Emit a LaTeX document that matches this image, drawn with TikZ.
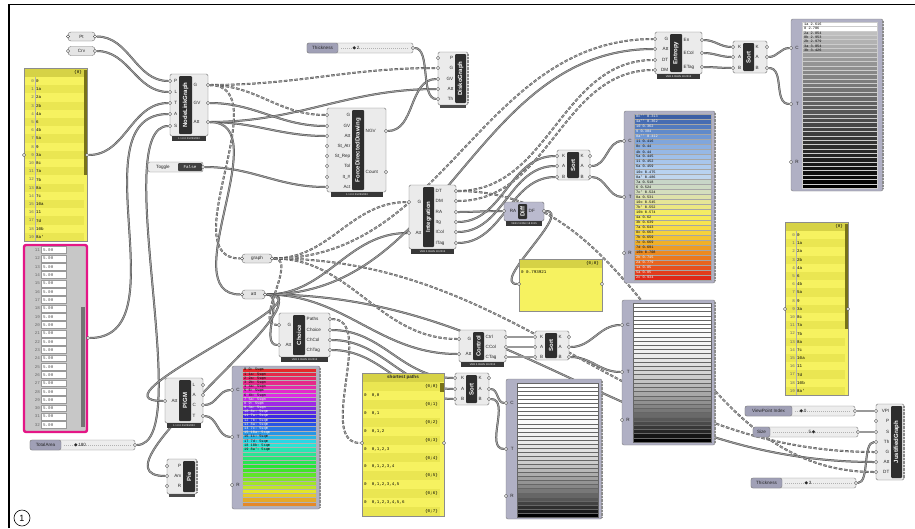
\documentclass[tikz,border=0pt]{standalone}
\usepackage{fontspec}
\setmainfont{Liberation Sans}
\setmonofont{Liberation Mono}
\newfontfamily\symfont{DejaVu Sans}
\pgfdeclarelayer{bg}
\pgfdeclarelayer{wires}
\pgfsetlayers{bg,wires,main}

% component: body, black band, vertical name
\newcommand{\ghbox}[8]{%
  \draw[compbody] (#2,#3) rectangle (#4,#5);
  \fill[black!82,rounded corners=1pt] (#6,#3+2) rectangle (#7,#5-2);
  \node[bandlabel] (#1) at ({(#6+#7)/2},{(#3+#5)/2}) {#8};}
% version strip under a component
\newcommand{\ghfoot}[4]{%
  \fill[black!78] (#1,#3) rectangle (#2,#3+5);
  \node[foottext] at ({(#1+#2)/2},#3+2.6) {#4};}
% input / output grips with labels
\newcommand{\ghins}[4]{%
  \foreach \lbl/\yy [count=\kk] in {#4}{%
    \node[grip] (#1-i\kk) at (#2,\yy) {};
    \node[portlbl,anchor=east] at (#3,\yy) {\lbl};}}
\newcommand{\ghouts}[4]{%
  \foreach \lbl/\yy [count=\kk] in {#4}{%
    \node[grip] (#1-o\kk) at (#2,\yy) {};
    \node[portlbl,anchor=west] at (#3,\yy) {\lbl};}}
% number slider
\newcommand{\ghslider}[8]{%
  \draw[sliderbody] (#2,#3) rectangle (#4,#3+10);
  \draw[sliderlbl] (#2,#3) rectangle (#5,#3+10);
  \node[portlbl] at ({(#2+#5)/2},#3+5) {#6};
  \draw[slidertrack] (#5+3,#3+5) -- (#4-4,#3+5);
  \node[portlbl] at (#7,#3+5) {#8};
  \node[grip] (#1) at (#4,#3+5) {};}
% parameter capsule
\newcommand{\ghparam}[5]{%
  \draw[parambody] (#2,#3) rectangle (#4,#3+9);
  \node[portlbl] at ({(#2+#4)/2},#3+4.5) {#5};
  \node[grip] (#1-in) at (#2,#3+4.5) {};
  \node[grip] (#1-out) at (#4,#3+4.5) {};}
% yellow list of rooms
\newcommand{\roomlist}[3]{%
  \fill[panelyellow] (#2,#3) rectangle (#2+63,#3+173);
  \fill[panelhead] (#2,#3) rectangle (#2+63,#3+9);
  \node[listtext,anchor=east] at (#2+58,#3+4.5) {\{0\}};
  \foreach \nm [count=\ri from 0] in {0,1a,2a,2b,4a,6,4b,5a,9,3a,8c,7a,7b,8a,7c,10a,11,7d,10b,8a'}{%
    \ifodd\ri\relax\fill[panelstripe] (#2,#3+9+\ri*8.2) rectangle (#2+60,#3+17.2+\ri*8.2);\fi
    \node[listtext,anchor=east,text=black!60] at (#2+10,#3+13.1+\ri*8.2) {\ri};
    \node[listtext,anchor=west] at (#2+12,#3+13.1+\ri*8.2) {\nm};}
  \draw[black!30] (#2+11,#3+9) -- (#2+11,#3+173);
  \fill[black!20!olive] (#2+60,#3+2) rectangle (#2+63,#3+107);
  \draw[black!45] (#2,#3) rectangle (#2+63,#3+173);
  \node[grip] (#1-in) at (#2,#3+87) {};
  \node[grip] (#1-out) at (#2+63,#3+87) {};}
% list panel frame with C, T, R inputs
\newcommand{\ghpanel}[7]{%
  \draw[panelframe] (#2,#3) rectangle (#4,#5);
  \draw[jag] (#4,#3+2) -- (#4,#5-2);
  \ghins{#1}{#2}{#6}{#7}}

\begin{document}
\begin{tikzpicture}[x=1pt,y=-1pt,
  compbody/.style={draw=black!55,fill=black!8,rounded corners=1.5pt,line width=0.4pt},
  bandlabel/.style={rotate=90,text=white,font=\bfseries\fontsize{6}{6}\selectfont,inner sep=0pt},
  foottext/.style={text=white,font=\fontsize{2.6}{3}\selectfont,inner sep=0pt},
  grip/.style={circle,draw=black!75,fill=white,inner sep=0pt,minimum size=3.2pt,line width=0.4pt},
  portlbl/.style={font=\fontsize{4.6}{5}\selectfont,text=black!85,inner sep=0pt},
  listtext/.style={font=\ttfamily\fontsize{4.2}{5}\selectfont,inner sep=0pt},
  rowtext/.style={font=\ttfamily\fontsize{3.6}{4}\selectfont,inner sep=0pt,anchor=west},
  sliderbody/.style={draw=black!50,fill=black!7,rounded corners=2pt,line width=0.4pt},
  sliderlbl/.style={draw=black!50,fill={rgb,255:red,160;green,160;blue,182},rounded corners=2pt,line width=0.4pt},
  slidertrack/.style={black!30,dash pattern=on 0.5pt off 1.5pt},
  parambody/.style={draw=black!55,fill=black!10,rounded corners=3pt,line width=0.4pt},
  panelyellow/.style={fill={rgb,255:red,246;green,242;blue,96}},
  panelstripe/.style={fill={rgb,255:red,234;green,230;blue,82}},
  panelhead/.style={fill={rgb,255:red,214;green,210;blue,70}},
  panelframe/.style={draw=black!50,fill={rgb,255:red,176;green,176;blue,196},rounded corners=2pt,line width=0.4pt},
  jag/.style={black!45,line width=1.4pt,dash pattern=on 0.5pt off 0.9pt},
  wire/.style={draw=black!72,line width=0.4pt,double=black!40,double distance=1.2pt},
  treewire/.style={wire,dash pattern=on 3.5pt off 1.8pt}]
\useasboundingbox (0,0) rectangle (915,528);
\begin{pgfonlayer}{bg}
\fill[white] (0,0) rectangle (915,528);
\end{pgfonlayer}

%Straight Lines: frame
\draw[line width=1.3pt] (9,528) -- (9,4.5) -- (915,4.5);

%Shape: parameters
\ghparam{pt}{68}{32}{95}{Pt}
\ghparam{crv}{68}{46.5}{95}{Crv}
\ghparam{graph}{242}{254}{272}{graph}
\ghparam{att}{242}{290}{265}{att}

%Shape: toggle
\draw[sliderbody] (148,162) rectangle (203,172);
\fill[black!75,rounded corners=1pt] (178,163) rectangle (202,171);
\node[portlbl] at (163,167) {Toggle};
\node[listtext,text=white] at (190,167) {False};
\node[grip] (toggle) at (203,167) {};

%Shape: sliders
\ghslider{thick1}{307}{43}{413}{338}{Thickness}{356}{{\symfont◆}\,2}
\ghslider{total}{30}{440}{135}{61}{TotalArea}{80}{{\symfont◆}\,180}
\ghslider{vpi}{745}{406}{855}{792}{ViewPoint Index}{803}{{\symfont◆}\,0}
\ghslider{size}{753}{427}{858}{770}{Size}{812}{5\,{\symfont◆}}
\ghslider{thick2}{751}{478}{856}{782}{Thickness}{808}{{\symfont◆}\,3}

%Shape: room lists
\roomlist{roomsL}{24}{68}
\roomlist{roomsR}{785}{222}

%Shape: area panel
\draw[line width=2.4pt,draw={rgb,255:red,228;green,22;blue,134},fill=black!22,rounded corners=2pt] (24,245) rectangle (87,432);
\foreach \ri in {11,...,32}{
  \node[listtext,anchor=east,text=black!60] at (40,250+\ri*8.33-91.63) {\ri};
  \draw[black!40,fill=white] (41.5,246.6+\ri*8.33-91.63) rectangle (66,253.4+\ri*8.33-91.63);
  \node[listtext,anchor=west,text=black!70] at (43,250+\ri*8.33-91.63) {5.00};}
\fill[black!55] (81,307) rectangle (84.5,427);
\node[grip] (areas-out) at (88,338) {};

%Shape: NodeLinkGraph
\ghbox{nlg}{170}{74}{208}{136}{179}{192}{NodeLinkGraph}
\ghfoot{172}{206}{136}{1.1.0.0 01/25/2023}
\ghins{nlg}{170}{177.5}{P/81,L/92,T/103,A/114,S/126}
\ghouts{nlg}{208}{193.5}{G/85,GV/103,Att/122}

%Shape: ForceDirectedDrawing
\ghbox{fdd}{327}{108}{386}{192}{352}{364}{ForceDirectedDrawing}
\ghfoot{331}{383}{192}{1.1.0.0 01/25/2023}
\ghins{fdd}{327}{350.5}{G/115,GV/126,Att/136,St\_Atr/146,St\_Rep/156,Tol/166,It\_\#/177,Act/187}
\ghouts{fdd}{386}{365.5}{NGV/131,Count/172}

%Shape: DiskoGraph
\ghbox{disko}{438}{52}{468}{105}{455}{466}{DiskoGraph}
\fill[black!70] (440,105) rectangle (466,108);
\draw[jag] (468,54) -- (468,103);
\ghins{disko}{438}{453.5}{P/58,G/68,GV/79,Att/89,Th/99}

%Shape: Integration
\ghbox{intg}{409}{185}{456}{249}{423}{434}{Integration}
\ghfoot{411}{454}{249}{VER 2.0/JAN 18 2015}
\ghins{intg}{409}{421.5}{G/202,Att/233}
\ghouts{intg}{456}{435.5}{DT/191,DM/201,RA/212,Itg/222,ICol/232,ITag/243}

%Shape: Diff
\begin{scope}[compbody/.append style={fill={rgb,255:red,186;green,186;blue,206}}]
\ghbox{diff}{504}{202}{544}{221}{518}{527}{Diff}
\end{scope}
\ghfoot{506}{542}{221}{VER 2.0/JAN 18 2015}
\ghins{diff}{504}{516.5}{RA/211}
\ghouts{diff}{544}{528.5}{DF/211}

%Shape: result panel
\fill[panelyellow] (519,259) rectangle (602,311);
\fill[panelhead] (519,259) rectangle (602,268);
\node[listtext,anchor=east] at (599,263.5) {\{0;0\}};
\node[listtext,anchor=west] at (521,272.5) {0\ 0.793921};
\draw[black!45] (519,259) rectangle (602,311);
\node[grip] (res-in) at (519,284) {};
\node[grip] (res-out) at (602,284) {};

%Shape: Entropy
\ghbox{ent}{655}{32}{702}{74}{670}{682}{Entropy}
\ghfoot{657}{700}{74}{VER 2.0/JAN 18 2015}
\ghins{ent}{655}{668.5}{G/39,Att/49,DT/60,DM/70}
\ghouts{ent}{702}{683.5}{En/40,ECol/53,ETag/67}

%Shape: Choice
\ghbox{cho}{279}{313}{330}{357}{293}{305}{Choice}
\ghfoot{281}{328}{357}{VER 2.0/JAN 18 2015}
\ghins{cho}{279}{291.5}{G/325,Att/345}
\ghouts{cho}{330}{306.5}{Paths/319,Choice/330,ChCol/340,ChTag/350}

%Shape: Control
\ghbox{ctrl}{459}{330}{506}{362}{473}{484}{Control}
\ghfoot{461}{504}{362}{VER 2.0/JAN 18 2015}
\ghins{ctrl}{459}{471.5}{G/339,Att/354}
\ghouts{ctrl}{506}{485.5}{Ctrl/337,CCol/347,CTag/357}

%Shape: Sort components
\ghbox{sorta}{557}{150}{590}{180}{567}{579}{Sort}
\ghins{sorta}{557}{565.5}{K/156,A/166,B/177}
\ghouts{sorta}{590}{580.5}{K/156,A/166,B/177}
\ghbox{sortb}{733}{41}{767}{73}{743}{754}{Sort}
\ghins{sortb}{733}{741.5}{K/47,A/57,B/68}
\ghouts{sortb}{767}{755.5}{K/47,A/57,B/68}
\ghbox{sortc}{535}{331}{569}{360}{545}{557}{Sort}
\ghins{sortc}{535}{543.5}{K/337,A/347,B/357}
\ghouts{sortc}{569}{558.5}{K/337,A/347,B/357}
\ghbox{sortd}{455}{373}{489}{405}{466}{477}{Sort}
\ghins{sortd}{455}{464.5}{K/378,A/389,B/399}
\ghouts{sortd}{489}{478.5}{K/378,A/389,B/399}

%Shape: PlGM and Pie
\ghbox{plgm}{165}{378}{203}{423}{179}{191}{PlGM}
\ghfoot{167}{201}{423}{1.1.0.0 01/25/2023}
\ghins{plgm}{165}{177.5}{Att/401}
\ghouts{plgm}{203}{192.5}{L/385,A/395,C/405,T/416}
\ghbox{pie}{167}{459}{197}{494}{183}{195}{Pie}
\fill[black!70] (169,494) rectangle (195,497);
\draw[jag] (197,461) -- (197,492);
\ghins{pie}{167}{181.5}{P/466,Am/476,R/486}

%Shape: JustifiedGraph
\ghbox{jg}{876}{404}{904}{480}{891}{902}{JustifiedGraph}
\draw[jag] (904,406) -- (904,478);
\ghins{jg}{876}{889.5}{VPI/411,P/421,S/432,Th/442,G/452,Att/462,DT/472}

%Shape: shortest paths panel
\fill[panelyellow] (362,373) rectangle (444,516);
\fill[panelhead] (362,373) rectangle (444,382);
\node[portlbl,font=\bfseries\fontsize{4.6}{5}\selectfont] at (403,377.5) {shortest paths};
\foreach \ri in {0,...,7}{
  \fill[panelstripe] (362,382+\ri*17.86) rectangle (440,390.93+\ri*17.86);
  \node[listtext,anchor=east] at (438,386.5+\ri*17.86) {\{0;\ri\}};}
\foreach \pth [count=\ri from 0] in {{0,0},{0,1},{0,1,2},{0,1,2,3},{0,1,2,3,4},{0,1,2,3,4,5},{0,1,2,3,4,5,6}}{
  \node[listtext,anchor=west] at (364,395.4+\ri*17.86) {0\ \ \pth};}
\fill[black!20!olive] (440,383) rectangle (443.5,392);
\draw[black!45] (362,373) rectangle (444,516);
\node[grip] (paths-in) at (362,443) {};
\node[grip] (paths-out) at (444,443) {};

%Shape: integration values, blue to red
\ghpanel{intpan}{624}{111}{715}{283}{632}{C/141,T/197,R/253}
\foreach \cR/\cG/\cB/\txt [count=\ri from 0] in {59/95/165/{8c'' 0.313},70/108/178/{4a'' 0.362},82/122/190/{10 0.362},96/138/202/{9 0.384},112/152/212/{8a'' 0.412},128/166/220/{11 0.416},140/176/226/{8c 0.44},150/184/230/{4b 0.44},160/192/234/{5a 0.445},168/198/236/{11 0.452},176/204/238/{6a 0.459},184/210/240/{10c 0.475},192/214/238/{8a' 0.486},200/214/200/{7a 0.518},206/218/196/{6 0.524},212/222/190/{7c' 0.524},222/226/170/{8a 0.531},230/230/150/{10c 0.545},236/232/130/{7b' 0.552},244/236/100/{10b 0.574},246/234/90/{4a 0.62},248/228/80/{3b 0.639},248/220/70/{7a 0.643},246/210/60/{8c 0.663},244/196/50/{7b 0.659},240/176/40/{7c 0.669},238/156/36/{7d 0.691},236/138/32/{10b 0.708},234/120/30/{2b 0.745},232/100/30/{2a 0.779},230/80/30/{1a 0.85},226/60/28/{5a 0.85},222/40/24/{2c 0.934}}{
  \definecolor{rowc}{RGB}{\cR,\cG,\cB}
  \pgfmathtruncatemacro\dark{0.3*\cR+0.59*\cG+0.11*\cB<150}
  \ifnum\dark=1 \def\tc{white}\else\def\tc{black}\fi
  \fill[rowc,draw=black!35,line width=0.2pt] (634,114+\ri*5.03) rectangle (711,119.03+\ri*5.03);
  \node[rowtext,text=\tc] at (636,116.5+\ri*5.03) {\txt};}

%Shape: entropy values, white to black
\ghpanel{entpan}{791}{19}{883}{191}{799}{C/48,T/104,R/162}
\foreach \ri in {0,...,37}{
  \pgfmathtruncatemacro\gv{\ri<2 ? 0 : 25+75*(max(\ri-2,0.01)/35)^0.9}
  \fill[black!\gv,draw=black!20,line width=0.2pt] (802,22+\ri*4.37) rectangle (877,26.37+\ri*4.37);}
\foreach \txt [count=\ri from 0] in {1a 2.616,0 2.706,2a 2.854,8b 2.953,2b 2.979,3a 3.054,3b 3.426}
  \node[rowtext] at (804,24.2+\ri*4.37) {\txt};

%Shape: areas, rainbow
\ghpanel{areapan}{232}{366}{320}{509}{240}{C/390,T/437,R/485}
\foreach \ri in {0,...,32}{
  \pgfmathsetmacro\hu{mod(360-\ri*10.3+360,360)}
  \definecolor{rowc}{Hsb}{\hu,0.82,0.9}
  \fill[rowc,draw=black!30,line width=0.2pt] (242,368+\ri*4.18) rectangle (316,372.18+\ri*4.18);}
\foreach \nm [count=\ri from 0] in {0,1a,2a,2b,4a,6,4b,5a,9,3a,8c,7a,7b,8a,7c,10a,11,7d,10b,8a'}{
  \ifnum\ri>6 \ifnum\ri<16 \def\tc{white}\else\def\tc{black}\fi\else\def\tc{black}\fi
  \node[rowtext,text=\tc] at (244,370.1+\ri*4.18) {\ri\ \nm: 5sqm};}

%Shape: choice values
\ghpanel{chopan}{506}{379}{602}{519}{514}{C/403,T/449,R/496}
\foreach \ri in {0,...,32}{
  \pgfmathtruncatemacro\gv{100*(\ri/32)^3}
  \fill[black!\gv,draw=black!60,line width=0.2pt] (517,383+\ri*4.06) rectangle (598,387.06+\ri*4.06);}

%Shape: control values
\ghpanel{ctrlpan}{622}{300}{715}{445}{630}{C/325,T/372,R/420}
\foreach \ri in {0,...,32}{
  \pgfmathtruncatemacro\gv{100*(\ri/32)^2.5}
  \fill[black!\gv,draw=black!60,line width=0.2pt] (633,303+\ri*4.21) rectangle (711,307.21+\ri*4.21);}

% Text Node
\node[draw,circle,line width=0.6pt,minimum size=16pt,inner sep=0pt,font=\fontsize{9}{9}\selectfont] (figno) at (22,518) {1};

\begin{pgfonlayer}{wires}
%Curve Lines: solid wires
\foreach \a/\b in {pt-out/nlg-i1,crv-out/nlg-i2,roomsL-out/nlg-i3,nlg-o2/fdd-i2,nlg-o3/fdd-i3,nlg-o3/disko-i4,fdd-o1/disko-i3,toggle/fdd-i8,nlg-o3/att-in,att-out/intg-i2,att-out/ctrl-i2,att-out/ent-i2,att-out/jg-i6,intg-o3/diff-i1,intg-o4/sorta-i1,intg-o5/sorta-i2,intg-o6/sorta-i3,sorta-o2/intpan-i1,sorta-o3/intpan-i2,ent-o1/sortb-i1,ent-o2/sortb-i2,ent-o3/sortb-i3,sortb-o2/entpan-i1,sortb-o3/entpan-i2,cho-o2/sortd-i1,cho-o3/sortd-i2,cho-o4/sortd-i3,sortd-o2/chopan-i1,sortd-o3/chopan-i2,ctrl-o1/sortc-i1,ctrl-o2/sortc-i2,ctrl-o3/sortc-i3,sortc-o2/ctrlpan-i1,sortc-o3/ctrlpan-i2,plgm-o3/areapan-i1,plgm-o4/areapan-i2,vpi/jg-i1,size/jg-i3,areas-out/nlg-i4}
  \draw[wire] (\a) to[out=0,in=180] (\b);
%Curve Lines: short turns and loops back
\draw[wire] (total) to[out=0,in=180,distance=60pt] (nlg-i5);
\draw[wire] (thick1) to[out=0,in=180,distance=16pt] (disko-i5);
\draw[wire] (att-out) to[out=0,in=180,distance=18pt] (cho-i2);
\draw[wire] (att-out) to[out=0,in=180,out distance=70pt,in distance=80pt] (plgm-i1);
\draw[wire] (att-out) to[out=0,in=180,out distance=70pt,in distance=85pt] (pie-i2);
\draw[wire] (diff-o1) to[out=0,in=180,distance=28pt] (res-in);
\draw[wire] (thick2) to[out=0,in=180,distance=12pt] (jg-i4);
%Curve Lines: tree wires
\foreach \a/\b in {nlg-o1/fdd-i1,nlg-o1/disko-i2,nlg-o1/graph-in,graph-out/intg-i1,graph-out/ctrl-i1,graph-out/ent-i1,graph-out/jg-i5,intg-o1/ent-i3,intg-o2/ent-i4,intg-o1/jg-i7}
  \draw[treewire] (\a) to[out=0,in=180] (\b);
\draw[treewire] (graph-out) to[out=0,in=180,distance=25pt] (cho-i1);
\draw[treewire] (cho-o1) to[out=0,in=180,distance=45pt] (paths-in);
\end{pgfonlayer}

\end{tikzpicture}
\end{document}
